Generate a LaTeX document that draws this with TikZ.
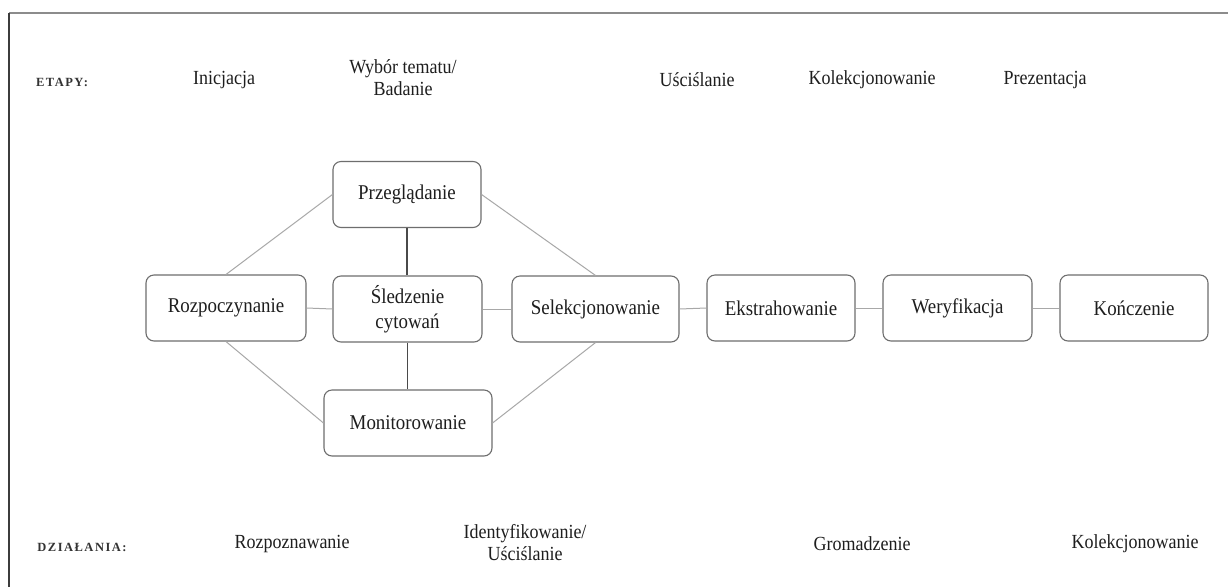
\documentclass[tikz,border=0pt]{standalone}
\usepackage{fontspec}
\setmainfont{Liberation Serif}[FakeStretch=0.9]
\newfontfamily\labelfont{Liberation Serif}[LetterSpace=12]
\definecolor{textcol}{HTML}{1E1E1E}
\definecolor{labelcol}{HTML}{333333}
\definecolor{boxgray}{HTML}{6E6E6E}
\definecolor{linkgray}{HTML}{A8A8A8}
\definecolor{linkdark}{HTML}{4A4A4A}
\definecolor{frametop}{HTML}{8C8C8C}
\definecolor{frameleft}{HTML}{3C3C3C}
\begin{document}
\begin{tikzpicture}[x=1pt,y=-1pt,
  stage/.style={draw=boxgray, line width=1.1pt, rounded corners=8pt,
    minimum height=66pt, inner sep=2pt, align=center,
    font=\fontsize{21}{25}\selectfont, text=textcol},
  phase/.style={align=center, font=\fontsize{20}{22}\selectfont, text=textcol},
  rowlabel/.style={font=\labelfont\bfseries\fontsize{12.5}{14}\selectfont, text=labelcol},
  link/.style={draw=linkgray, line width=1pt},
  darklink/.style={draw=linkdark, line width=1.1pt},
]
\useasboundingbox (0,0) rectangle (1228,587);
\fill[white] (0,0) rectangle (1228,587);

% frame
\draw[frametop, line width=1.4pt] (9,13) -- (1228,13);
\draw[frameleft, line width=1.8pt] (9,13) -- (9,587);

% stage row
\node[rowlabel] (stagesLbl) at (62,82) {ETAPY:};
\node[phase] (s1) at (224,80) {Inicjacja};
\node[phase] (s2) at (403,78) {Wybór tematu/\\Badanie};
\node[phase] (s3) at (697,80) {Uściślanie};
\node[phase] (s4) at (872,80) {Kolekcjonowanie};
\node[phase] (s5) at (1045,80) {Prezentacja};

% activity boxes
\node[stage, minimum width=148pt] (browse)  at (407,194.5) {Przeglądanie};
\node[stage, minimum width=160pt] (start)   at (226,308)   {Rozpoczynanie};
\node[stage, minimum width=149pt] (chain)   at (407.5,309) {Śledzenie\\cytowań};
\node[stage, minimum width=168pt] (monitor) at (408,423)   {Monitorowanie};
\node[stage, minimum width=167pt] (select)  at (595.5,309) {Selekcjonowanie};
\node[stage, minimum width=148pt] (extract) at (781,308)   {Ekstrahowanie};
\node[stage, minimum width=149pt] (verify)  at (957.5,308) {Weryfikacja};
\node[stage, minimum width=148pt] (finish)  at (1134,308)  {Kończenie};

% connectors
\draw[link] (start.north) -- (browse.west);
\draw[link] (start.south) -- (monitor.west);
\draw[link] (browse.east) -- (select.north);
\draw[link] (monitor.east) -- (select.south);
\draw[darklink] (browse.south) -- (browse.south |- chain.north);
\draw[darklink] (chain.south) -- (chain.south |- monitor.north);
\draw[link] (start.east) -- (chain.west);
\draw[link] (chain.east) -- (select.west);
\draw[link] (select.east) -- (extract.west);
\draw[link] (extract.east) -- (verify.west);
\draw[link] (verify.east) -- (finish.west);

% action row
\node[rowlabel] (actionsLbl) at (82,547) {DZIAŁANIA:};
\node[phase] (a1) at (292,544) {Rozpoznawanie};
\node[phase] (a2) at (525,543) {Identyfikowanie/\\Uściślanie};
\node[phase] (a3) at (862,544) {Gromadzenie};
\node[phase] (a4) at (1135,544) {Kolekcjonowanie};
\end{tikzpicture}
\end{document}
